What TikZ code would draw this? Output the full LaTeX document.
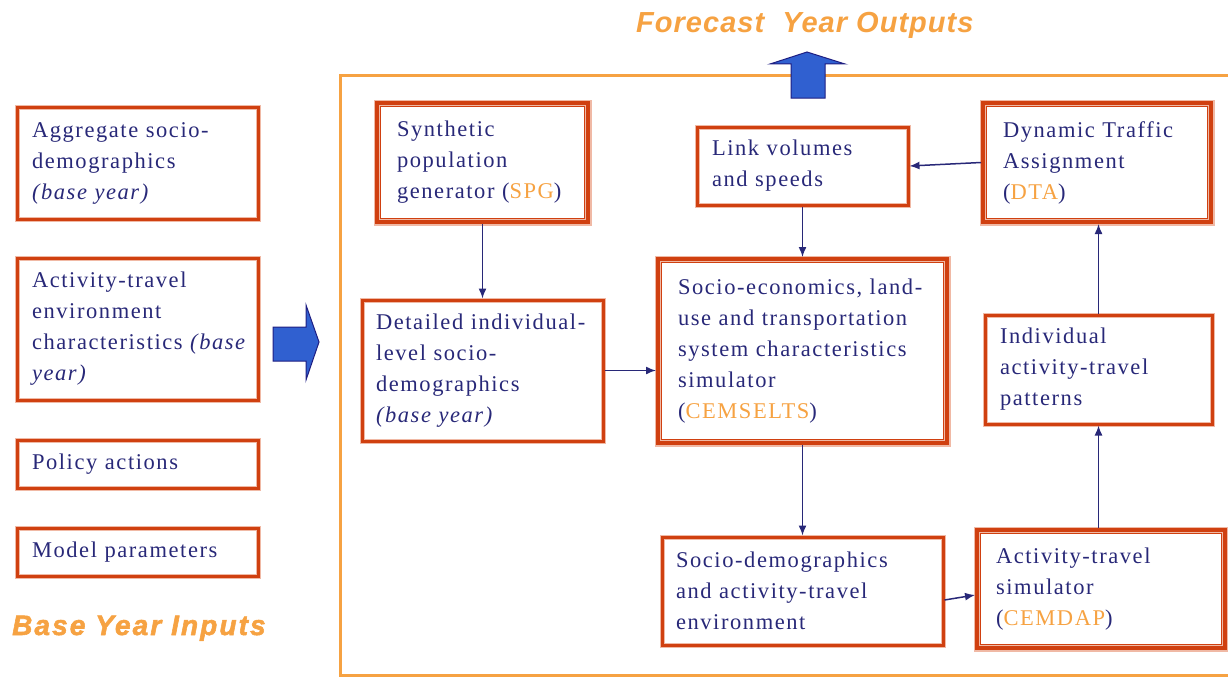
\documentclass[tikz,border=0pt]{standalone}
\usepackage{fontspec}
\setmainfont{Liberation Serif}[LetterSpace=7]
\newfontfamily\titlefont{Liberation Sans Bold Italic}[LetterSpace=3.5]
\newfontfamily\heavytitle{Liberation Sans Bold Italic}[LetterSpace=7.5, FakeBold=2]
\usetikzlibrary{arrows.meta}
\definecolor{navy}{RGB}{40,40,120}
\definecolor{boxred}{RGB}{208,64,16}
\definecolor{halo}{RGB}{240,185,165}
\definecolor{orng}{RGB}{246,162,66}
\definecolor{arrowblue}{RGB}{48,96,208}
\definecolor{arrowedge}{RGB}{30,30,130}
\newcommand\boxfont{\fontsize{22.5}{31}\selectfont}
\newcommand\ac[1]{\textcolor{orng}{#1}}
\begin{document}
\begin{tikzpicture}[x=1pt,y=-1pt,
  sbox/.style={draw=boxred, line width=3pt, text=navy, font=\boxfont, align=left, inner ysep=0pt, preaction={draw=halo, line width=5pt}},
  dbox/.style={sbox, line width=4pt, preaction={draw=halo, line width=7pt}},
  conn/.style={draw=navy, line width=1.5pt, -{Latex[length=10pt,width=8pt]}},
  outerframe/.style={draw=orng, line width=3pt},
  bigarrow/.style={fill=arrowblue, draw=arrowedge, line width=1pt, line join=miter},
  ttl/.style={text=orng, inner sep=0pt, anchor=base west}
]
\useasboundingbox (0,0) rectangle (1228,677);

% frame
\draw[outerframe] (1232,75) -- (340,75) -- (340,675.5) -- (1232,675.5);

% titles
\node[ttl, font=\heavytitle\fontsize{28}{32}\selectfont] (basettl) at (12,635) {Base Year Inputs};
\node[ttl, font=\titlefont\fontsize{29}{32}\selectfont] (fcttl) at (636,33) {Forecast\ \ Year Outputs};

% big arrows
\draw[bigarrow] (273,327) -- (306,327) -- (306,305) -- (319,342) -- (306,380) -- (306,361) -- (273,361) -- cycle;
\draw[bigarrow] (791,98) -- (791,64) -- (770,64) -- (807,52) -- (845,64) -- (825,64) -- (825,98) -- cycle;

% left input boxes
\node[sbox, minimum width=241pt, minimum height=112pt, inner xsep=15pt, text width=211pt] (agg) at (137.5,163)
  {Aggregate~socio-\\demographics\\\textit{(base~year)}};
\node[sbox, minimum width=241pt, minimum height=142pt, inner xsep=15pt, text width=211pt] (act) at (137.5,329)
  {Activity-travel\\environment\\characteristics~\textit{(base}\\\textit{year)}};
\node[sbox, minimum width=241pt, minimum height=48pt, inner xsep=15pt, text width=211pt] (pol) at (137.5,464)
  {Policy~actions};
\node[sbox, minimum width=241pt, minimum height=48pt, inner xsep=15pt, text width=211pt] (mod) at (137.5,552)
  {Model~parameters};

% model boxes
\node[dbox, minimum width=211pt, minimum height=119pt, inner xsep=20pt, text width=171pt] (spg) at (482.5,162.5)
  {Synthetic\\population\\generator~(\ac{SPG})};
\node[sbox, minimum width=241pt, minimum height=141pt, inner xsep=14pt, text width=213pt] (det) at (482.5,370.5)
  {Detailed~individual-\\level~socio-\\demographics\\\textit{(base~year)}};
\node[sbox, minimum width=211pt, minimum height=78pt, inner xsep=15pt, text width=181pt] (lnk) at (802.5,166)
  {Link~volumes\\and~speeds};
\node[dbox, minimum width=228pt, minimum height=119pt, inner xsep=20pt, text width=188pt] (dta) at (1097,162.5)
  {Dynamic~Traffic\\Assignment\\(\ac{DTA})};
\node[dbox, minimum width=289pt, minimum height=184pt, inner xsep=20pt, text width=249pt] (cems) at (802.5,351)
  {Socio-economics,~land-\\use~and~transportation\\system~characteristics\\simulator\\(\ac{CEMSELTS})};
\node[sbox, minimum width=227pt, minimum height=109pt, inner xsep=15pt, text width=197pt] (ind) at (1098.5,369.5)
  {Individual\\activity-travel\\patterns};
\node[sbox, minimum width=281pt, minimum height=108pt, inner xsep=14pt, text width=253pt] (sdem) at (802.5,591)
  {Socio-demographics\\and~activity-travel\\environment};
\node[dbox, minimum width=248pt, minimum height=118pt, inner xsep=19pt, text width=210pt] (cemdap) at (1101,589)
  {Activity-travel\\simulator\\(\ac{CEMDAP})};

% inner lines of double boxes
\foreach \n in {spg,dta,cems,cemdap}
  \draw[boxred, line width=1.8pt] ([shift={(5.5pt,-5.5pt)}]\n.north west) rectangle ([shift={(-5.5pt,5.5pt)}]\n.south east);

% connectors
\draw[conn] (spg.south) -- (det.north);
\draw[conn] (det.east) -- (det.east -| cems.west);
\draw[conn] (lnk.south) -- (cems.north);
\draw[conn] (cems.south) -- (sdem.north);
\draw[conn] ([yshift=-9pt]sdem.east) -- ([yshift=-6pt]cemdap.west);
\draw[conn] (ind.south |- cemdap.north) -- (ind.south);
\draw[conn] (ind.north) -- (ind.north |- dta.south);
\draw[conn] (dta.west) -- (lnk.east);
\end{tikzpicture}
\end{document}
